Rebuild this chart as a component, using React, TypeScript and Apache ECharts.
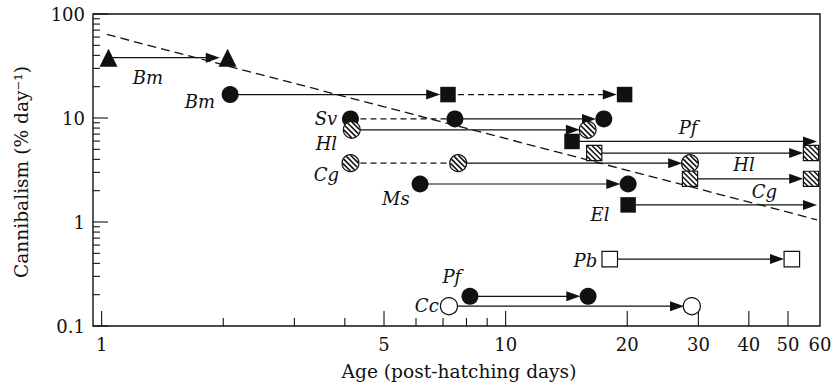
import { useEffect, useRef } from "react";
import * as echarts from "echarts";

const X_MIN = 0.952;
const X_MAX = 60;
const Y_MIN = 0.1;
const Y_MAX = 100;

const xMajorTicks = [1, 5, 10, 20, 30, 40, 50];
const xMinorTicks = [2, 3, 4, 6, 7, 8, 9];
const xTickLabels = [1, 5, 10, 20, 30, 40, 50, 60];
const yMajorTicks = [0.1, 1, 10, 100];
const yMinorTicks = [0.2, 0.3, 0.4, 0.5, 0.6, 0.7, 0.8, 0.9, 2, 3, 4, 5, 6, 7, 8, 9, 20, 30, 40, 50, 60, 70, 80, 90];
const yTickLabels = [0.1, 1, 10, 100];

// markers [age, cannibalism]
const triangles = [[1.04, 38], [2.05, 38]];
const filledCircles = [
  [2.08, 16.8], [4.13, 9.8], [7.49, 9.8], [17.5, 9.8],
  [6.14, 2.32], [20.1, 2.32], [8.16, 0.193], [16.0, 0.193],
];
const filledSquares = [[7.2, 16.8], [19.7, 16.8], [14.6, 5.95], [20.1, 1.46]];
const hatchedCircles = [[4.16, 7.7], [15.96, 7.7], [4.13, 3.68], [7.63, 3.68], [28.6, 3.68]];
const hatchedSquares = [[16.57, 4.6], [57, 4.6], [28.6, 2.6], [57, 2.6]];
const openSquares = [[18.1, 0.44], [51.1, 0.44]];
const openCircles = [[7.24, 0.155], [28.9, 0.155]];

// arrows [fromAge, toAge, cannibalism]
const solidArrows = [
  [1.04, 2.05, 38], [2.08, 7.2, 16.8], [7.49, 17.5, 9.8], [4.16, 15.96, 7.7],
  [7.63, 28.6, 3.68], [6.14, 20.1, 2.32], [14.6, 60, 5.95], [16.57, 57, 4.6],
  [28.6, 57, 2.6], [20.1, 60, 1.46], [18.1, 51.1, 0.44], [8.16, 16.0, 0.193],
  [7.24, 28.9, 0.155],
];
const dashedArrows = [[7.2, 19.7, 16.8]];
const dashedLinks = [[4.13, 7.49, 9.8], [4.13, 7.63, 3.68]];

const regression = [[1.03, 63.6], [59, 1.05]];

const speciesNames = ["Bm", "Bm", "Sv", "Hl", "Cg", "Ms", "Pf", "Hl", "Cg", "El", "Pb", "Pf", "Cc"];
const speciesPos = [
  [1.302, 24.5], [1.751, 14.45], [3.59, 10.0], [3.6, 5.74], [3.6, 2.84], [5.35, 1.7],
  [28.3, 8.06], [38.9, 3.55], [43.7, 1.95], [17.12, 1.168], [15.75, 0.43], [7.36, 0.297], [6.38, 0.158],
];

const INK = "#111";
const FONT = "DejaVu Serif";
const FS = 18;

function arrowSeries(data: number[][], dashed: boolean, head: boolean) {
  return {
    type: "custom",
    coordinateSystem: "cartesian2d",
    clip: false,
    z: 2,
    encode: { x: 0, y: 2 },
    data,
    renderItem: (_p: any, api: any) => {
      const x1 = api.value(0), x2 = api.value(1), y = api.value(2);
      const a = api.coord([x1, y]);
      const b = api.coord([x2, y]);
      const edge = x2 >= X_MAX;
      const gap = head ? (edge ? 3 : 7.8) : 0;
      const tip = b[0] - gap;
      const hl = 14, hw = 5;
      const children: any[] = [
        {
          type: "line",
          shape: { x1: a[0], y1: a[1], x2: head ? tip - hl + 1 : tip, y2: b[1] },
          style: { stroke: INK, lineWidth: 1.2, lineDash: dashed ? [6, 4] : null },
        },
      ];
      if (head) {
        children.push({
          type: "polygon",
          shape: { points: [[tip, b[1]], [tip - hl, b[1] - hw], [tip - hl, b[1] + hw]] },
          style: { fill: INK },
        });
      }
      return { type: "group", children };
    },
  };
}

function hatchSeries(data: number[][], square: boolean) {
  return {
    type: "custom",
    coordinateSystem: "cartesian2d",
    clip: false,
    z: 5,
    encode: { x: 0, y: 1 },
    data,
    renderItem: (_p: any, api: any) => {
      const p = api.coord([api.value(0), api.value(1)]);
      const cx = p[0], cy = p[1];
      const children: any[] = [];
      const s2 = Math.SQRT2;
      if (square) {
        const s = 7.6;
        children.push({ type: "rect", shape: { x: cx - s, y: cy - s, width: 2 * s, height: 2 * s }, style: { fill: "#fff" } });
        for (const d of [-7.4, -3.7, 0, 3.7, 7.4]) {
          const h = s * s2 - Math.abs(d) - 0.3;
          if (h <= 0) continue;
          const bx = cx + d / s2, by = cy - d / s2;
          children.push({ type: "line", shape: { x1: bx - h / s2, y1: by - h / s2, x2: bx + h / s2, y2: by + h / s2 }, style: { stroke: INK, lineWidth: 1.5 } });
        }
        children.push({ type: "rect", shape: { x: cx - s, y: cy - s, width: 2 * s, height: 2 * s }, style: { fill: "none", stroke: INK, lineWidth: 1.2 } });
      } else {
        const r = 8.4;
        children.push({ type: "circle", shape: { cx, cy, r }, style: { fill: "#fff" } });
        for (const d of [-5.6, -1.9, 1.9, 5.6]) {
          const rr = r - 0.5;
          const h = Math.sqrt(Math.max(0, rr * rr - d * d));
          const bx = cx + d / s2, by = cy - d / s2;
          children.push({ type: "line", shape: { x1: bx - h / s2, y1: by - h / s2, x2: bx + h / s2, y2: by + h / s2 }, style: { stroke: INK, lineWidth: 1.6 } });
        }
        children.push({ type: "circle", shape: { cx, cy, r }, style: { fill: "none", stroke: INK, lineWidth: 1.2 } });
      }
      return { type: "group", children };
    },
  };
}

function scatter(data: number[][], symbol: string, size: number, open: boolean) {
  return {
    type: "scatter",
    data,
    symbol,
    symbolSize: size,
    z: 4,
    clip: false,
    itemStyle: open
      ? { color: "#fff", borderColor: INK, borderWidth: 1.2, opacity: 1 }
      : { color: INK, opacity: 1 },
    emphasis: { disabled: true },
  };
}

function tickSeries(values: number[], axis: "x" | "y", len: number) {
  return {
    type: "custom",
    coordinateSystem: "cartesian2d",
    clip: false,
    z: 6,
    encode: { x: 0, y: 1 },
    data: values.map((v) => (axis === "x" ? [v, Y_MIN] : [X_MIN, v])),
    renderItem: (_p: any, api: any) => {
      const p = api.coord([api.value(0), api.value(1)]);
      const shape = axis === "x"
        ? { x1: p[0], y1: p[1], x2: p[0], y2: p[1] - len }
        : { x1: p[0], y1: p[1], x2: p[0] + len, y2: p[1] };
      return { type: "line", shape, style: { stroke: INK, lineWidth: 1.1 } };
    },
  };
}

function tickLabelSeries(values: number[], axis: "x" | "y") {
  return {
    type: "custom",
    coordinateSystem: "cartesian2d",
    clip: false,
    z: 6,
    encode: { x: 0, y: 1 },
    data: values.map((v) => (axis === "x" ? [v, Y_MIN] : [X_MIN, v])),
    renderItem: (params: any, api: any) => {
      const p = api.coord([api.value(0), api.value(1)]);
      const v = values[params.dataIndex];
      return {
        type: "text",
        x: axis === "x" ? p[0] : p[0] - 8,
        y: axis === "x" ? p[1] + 18 : p[1],
        style: {
          text: String(v),
          fontFamily: FONT,
          fontSize: FS,
          fill: INK,
          align: axis === "x" ? "center" : "right",
          verticalAlign: "middle",
        },
      };
    },
  };
}

const speciesSeries = {
  type: "custom",
  coordinateSystem: "cartesian2d",
  clip: false,
  z: 7,
  encode: { x: 0, y: 1 },
  data: speciesPos,
  renderItem: (params: any, api: any) => {
    const p = api.coord([api.value(0), api.value(1)]);
    return {
      type: "text",
      x: p[0],
      y: p[1],
      style: {
        text: speciesNames[params.dataIndex],
        fontFamily: FONT,
        fontStyle: "italic",
        fontSize: FS,
        fill: INK,
        align: "center",
        verticalAlign: "middle",
      },
    };
  },
};

export default function App() {
  const ref = useRef<HTMLDivElement>(null);
  useEffect(() => {
    document.body.style.margin = "0";
    if (!ref.current) return;
    const chart = echarts.init(ref.current, null, { renderer: "svg" });
    chart.setOption({
      animation: false,
      backgroundColor: "#fff",
      grid: {
        left: 93, right: 17, top: 14, bottom: 62,
        show: true, borderColor: INK, borderWidth: 1.4, backgroundColor: "transparent",
      },
      xAxis: {
        type: "log", logBase: 10, min: X_MIN, max: X_MAX,
        axisLine: { show: false }, axisTick: { show: false }, axisLabel: { show: false }, splitLine: { show: false },
      },
      yAxis: {
        type: "log", logBase: 10, min: Y_MIN, max: Y_MAX,
        axisLine: { show: false }, axisTick: { show: false }, axisLabel: { show: false }, splitLine: { show: false },
      },
      graphic: [
        {
          type: "text", x: 459, y: 371,
          style: { text: "Age (post-hatching days)", fontFamily: FONT, fontSize: 18.6, fill: INK, align: "center", verticalAlign: "middle" },
        },
        {
          type: "text", x: 21, y: 172, rotation: Math.PI / 2,
          style: { text: "Cannibalism (% day\u207B\u00B9)", fontFamily: FONT, fontSize: 18.6, fill: INK, align: "center", verticalAlign: "middle" },
        },
      ],
      series: [
        {
          type: "line",
          data: regression,
          symbol: "none",
          z: 1,
          lineStyle: { color: INK, width: 1.3, type: [9, 5] },
          emphasis: { disabled: true },
        },
        arrowSeries(solidArrows, false, true),
        arrowSeries(dashedArrows, true, true),
        arrowSeries(dashedLinks, true, false),
        scatter(triangles, "triangle", 18, false),
        scatter(filledCircles, "circle", 17, false),
        scatter(filledSquares, "rect", 15.5, false),
        scatter(openSquares, "rect", 15.5, true),
        scatter(openCircles, "circle", 17, true),
        hatchSeries(hatchedCircles, false),
        hatchSeries(hatchedSquares, true),
        tickSeries(xMajorTicks, "x", 15),
        tickSeries(xMinorTicks, "x", 8),
        tickSeries(yMajorTicks, "y", 15),
        tickSeries(yMinorTicks, "y", 7),
        tickLabelSeries(xTickLabels, "x"),
        tickLabelSeries(yTickLabels, "y"),
        speciesSeries,
      ],
    });
    return () => chart.dispose();
  }, []);
  return <div ref={ref} style={{ width: 837, height: 388 }} />;
}
